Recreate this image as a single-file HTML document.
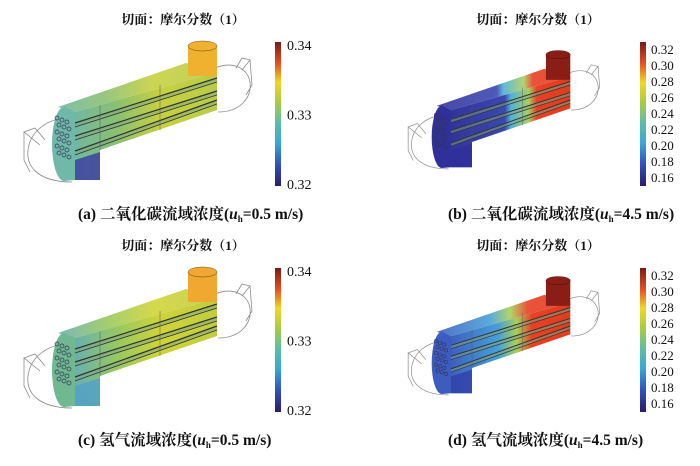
<!DOCTYPE html>
<html><head><meta charset="utf-8"><style>
body{margin:0;background:#fff}
svg{display:block}
text{font-family:"Liberation Serif","Noto Serif CJK SC",serif;fill:#111}
</style></head><body>
<svg id="fig" width="700" height="466" viewBox="0 0 700 466">
<defs>
<linearGradient id="cbar" x1="0" y1="1" x2="0" y2="0">
<stop offset="0" stop-color="#2a1c6e"/><stop offset="0.15" stop-color="#3050c0"/><stop offset="0.3" stop-color="#38a8d8"/><stop offset="0.45" stop-color="#60c0a0"/><stop offset="0.58" stop-color="#a8cc40"/><stop offset="0.72" stop-color="#f0d820"/><stop offset="0.85" stop-color="#e85020"/><stop offset="1" stop-color="#7a1a14"/>
</linearGradient>
<linearGradient id="gA" x1="0" y1="0" x2="1" y2="0">
<stop offset="0" stop-color="#70b8a0"/><stop offset="0.3" stop-color="#8cc070"/><stop offset="0.6" stop-color="#c8d040"/><stop offset="1" stop-color="#b8cc48"/></linearGradient>
<linearGradient id="gB" x1="0" y1="0" x2="1" y2="0">
<stop offset="0" stop-color="#33339a"/><stop offset="0.45" stop-color="#3a48b0"/><stop offset="0.5" stop-color="#50b0d8"/><stop offset="0.65" stop-color="#a8d060"/><stop offset="0.72" stop-color="#e84024"/><stop offset="1" stop-color="#e03c20"/></linearGradient>
<linearGradient id="gC" x1="0" y1="0" x2="1" y2="0">
<stop offset="0" stop-color="#68b0b0"/><stop offset="0.3" stop-color="#98c860"/><stop offset="0.6" stop-color="#d0d438"/><stop offset="1" stop-color="#c0cc40"/></linearGradient>
<linearGradient id="gD" x1="0" y1="0" x2="1" y2="0">
<stop offset="0" stop-color="#3c60c0"/><stop offset="0.4" stop-color="#48a0d8"/><stop offset="0.55" stop-color="#a8d058"/><stop offset="0.68" stop-color="#e84024"/><stop offset="1" stop-color="#e03c20"/></linearGradient>
</defs>
<g id="panels"></g>
</svg>
<script>
const titles = ["切面：摩尔分数（1）","切面：摩尔分数（1）","切面：摩尔分数（1）","切面：摩尔分数（1）"];
const capMain = ["(a) 二氧化碳流域浓度(","(b) 二氧化碳流域浓度(","(c) 氢气流域浓度(","(d) 氢气流域浓度("];
const capVel = ["=0.5 m/s)","=4.5 m/s)","=0.5 m/s)","=4.5 m/s)"];
const ticksA = ["0.34","0.33","0.32"];
const ticksB = ["0.32","0.30","0.28","0.26","0.24","0.22","0.20","0.18","0.16"];
const NS="http://www.w3.org/2000/svg";
function mk(tag,attrs,parent){const e=document.createElementNS(NS,tag);for(const k in attrs)e.setAttribute(k,attrs[k]);parent.appendChild(e);return e;}
const root=document.getElementById('panels');
const panels=[
 {dy:0,left:true,grad:'gA',riser:'#f0b030',endc:'#70b8a8',low:'#3a3aa0'},
 {dy:0,left:false,grad:'gB',riser:'#8a1e16',endc:'#30309a',low:'#30309a'},
 {dy:226,left:true,grad:'gC',riser:'#f0a830',endc:'#70b890',low:'#50a0c8'},
 {dy:226,left:false,grad:'gD',riser:'#8a1e16',endc:'#3c5cc0',low:'#3040a8'}];
panels.forEach((p,i)=>{
 const g=mk('g',{},root);
 
 
 const ox=p.left?0:355;
 const t=mk('text',{x:ox+183,y:p.dy+24,'font-size':13,'font-weight':'bold','text-anchor':'middle'},g);
 t.textContent=titles[i];
 
 
 const tr=p.left?`translate(0,${p.dy})`:`translate(388,${p.dy+16}) scale(0.84)`;
 const m=mk('g',{transform:tr},g);
 
 
 const w={fill:'none',stroke:'#8a8a8a','stroke-width':0.8};
 mk('path',Object.assign({d:'M70,118 C45,118 30,133 28,150 C26,168 40,182 72,182 M40,145 L24,132 L24,160 L30,172 M24,132 L35,128 L45,140'},w),m);
 mk('path',Object.assign({d:'M215,68 C235,60 248,70 250,82 C252,98 240,112 218,112 M242,70 L250,60 L252,85 L246,95 M250,60 L242,58 L236,68'},w),m);
 mk('polygon',{points:'58,107 186,63 217,72 75,112',fill:'url(#'+p.grad+')',opacity:0.9},m);
 const body=mk('polygon',{points:'75,112 217,72 217,110 100,150 100,180 75,180',fill:'url(#'+p.grad+')'},m);
 
 
 mk('polygon',{points:'75,160 100,152 100,180 75,180',fill:p.low,opacity:0.8},m);
 mk('ellipse',{cx:64,cy:144,rx:12,ry:37,fill:p.endc},m);
 mk('polygon',{points:'64,107 75,112 75,180 64,181',fill:p.endc},m);
 for(let r=0;r<6;r++)for(let c=0;c<3;c++){mk('circle',{cx:57+c*5+(r%2)*2,cy:118+r*7+c*2,r:2,fill:'none',stroke:'#335','stroke-width':0.7},m);}
 [[123,78],[136,91],[151,100]].forEach(s=>{
  mk('polygon',{points:`75,${s[0]} 217,${s[1]} 217,${s[1]+4} 75,${s[0]+4}`,fill:'#8aa080',opacity:0.5},m);
  mk('line',{x1:75,y1:s[0],x2:217,y2:s[1],stroke:'#2a3a30','stroke-width':1.2},m);
  mk('line',{x1:75,y1:s[0]+4,x2:217,y2:s[1]+4,stroke:'#2a3a30','stroke-width':0.8},m);
 });
 mk('line',{x1:100,y1:150,x2:100,y2:105,stroke:'#556','stroke-width':0.5},m);
 mk('line',{x1:160,y1:130,x2:160,y2:85,stroke:'#556','stroke-width':0.5},m);
 const rs=mk('rect',{x:188,y:46,width:29,height:30,fill:p.riser},m);
 
 
 mk('ellipse',{cx:202.5,cy:46,rx:14.5,ry:5,fill:p.riser,stroke:'#000','stroke-width':0.3},m);
 const cb=mk('rect',{x:p.left?275:640,y:p.dy+42,width:6,height:144,fill:'url(#cbar)'},g);
 
 
 const ticks=p.left?ticksA:ticksB;
 const y0=p.left?p.dy+46:p.dy+50, y1=p.left?p.dy+185:p.dy+178;
 ticks.forEach((v,k)=>{
  const tt=mk('text',{x:(p.left?287:651),y:y0+(y1-y0)*k/(ticks.length-1)+4,'font-size':p.left?14:13},g);
  tt.textContent=v;
  
  
 });
 const cap=mk('text',{x:p.left?78:448,y:p.dy+219,'font-size':15.5,'font-weight':'bold'},g);
 cap.textContent=capMain[i];
 const ts=mk('tspan',{'font-style':'italic'},cap);ts.textContent='u';
 const sb=mk('tspan',{'font-size':9,dy:3},cap);sb.textContent='h';
 const rest=mk('tspan',{dy:-3},cap);rest.textContent=capVel[i];
 
 
});
</script>
</body></html>
